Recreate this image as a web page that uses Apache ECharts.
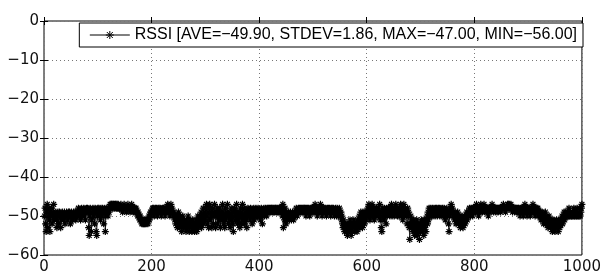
<!DOCTYPE html>
<html>
<head>
    <meta charset="utf-8">
    <title>RSSI</title>
    <script type="text/javascript" src="https://cdn.jsdelivr.net/npm/echarts@6/dist/echarts.min.js"></script>
    <style>
        html, body { margin: 0; padding: 0; background: #fff; }
    </style>
</head>
<body>
    <div id="main" style="width: 604px;height:280px;"></div>
    <script type="text/javascript">
        // 数据 (one row = 20 samples)
        var rssi = [
            -50,-48,-52,-54,-49,-47,-53,-50,-48,-51,-54,-49,-50,-48,-52,-50,-49,-47,-51,-50,
            -50,-49,-51,-53,-50,-49,-52,-50,-49,-50,-53,-51,-50,-49,-50,-51,-50,-49,-52,-50,
            -50,-49,-50,-51,-50,-49,-49,-50,-52,-50,-49,-50,-51,-50,-49,-50,-50,-49,-51,-50,
            -49,-50,-49,-48,-50,-49,-50,-51,-49,-48,-49,-50,-49,-48,-50,-49,-51,-49,-48,-49,
            -48,-49,-53,-55,-50,-48,-49,-54,-51,-49,-48,-50,-49,-52,-48,-49,-54,-55,-50,-48,
            -49,-48,-50,-49,-51,-48,-49,-50,-48,-49,-52,-49,-48,-54,-50,-49,-48,-49,-50,-48,
            -49,-48,-47,-48,-47,-47,-48,-47,-47,-48,-47,-48,-47,-47,-48,-47,-48,-47,-48,-48,
            -48,-48,-47,-48,-48,-49,-48,-48,-47,-48,-48,-48,-49,-48,-48,-47,-48,-48,-48,-49,
            -48,-48,-47,-48,-48,-49,-48,-48,-48,-49,-48,-49,-49,-50,-49,-50,-50,-51,-50,-51,
            -51,-52,-51,-52,-52,-51,-52,-52,-51,-52,-51,-51,-52,-51,-50,-51,-50,-49,-50,-49,
            -49,-48,-49,-48,-50,-49,-48,-49,-48,-49,-50,-48,-49,-48,-49,-48,-49,-50,-49,-48,
            -49,-48,-48,-49,-50,-49,-48,-49,-48,-47,-49,-48,-49,-50,-48,-47,-49,-48,-49,-50,
            -49,-50,-51,-50,-52,-50,-51,-53,-50,-49,-52,-51,-53,-50,-52,-54,-51,-50,-53,-52,
            -51,-53,-52,-54,-51,-52,-53,-50,-52,-54,-53,-51,-52,-53,-54,-52,-51,-53,-52,-54,
            -52,-53,-51,-54,-52,-50,-53,-52,-51,-50,-52,-49,-53,-51,-50,-48,-52,-50,-49,-51,
            -48,-47,-50,-52,-49,-53,-48,-47,-51,-50,-49,-53,-48,-50,-52,-49,-47,-50,-53,-49,
            -50,-48,-52,-49,-51,-50,-48,-53,-49,-50,-51,-47,-49,-52,-50,-53,-48,-51,-50,-49,
            -47,-50,-52,-49,-51,-53,-50,-48,-51,-49,-52,-54,-50,-48,-49,-51,-50,-47,-49,-52,
            -50,-51,-49,-53,-48,-50,-52,-49,-47,-51,-50,-48,-52,-50,-49,-51,-53,-50,-48,-49,
            -50,-49,-51,-48,-50,-49,-52,-50,-49,-48,-51,-50,-49,-48,-50,-49,-50,-48,-49,-50,
            -49,-51,-50,-48,-49,-52,-50,-49,-48,-50,-49,-48,-49,-50,-48,-49,-48,-49,-48,-49,
            -48,-49,-48,-48,-49,-48,-49,-48,-49,-48,-48,-49,-48,-49,-48,-49,-48,-48,-49,-48,
            -49,-48,-50,-47,-53,-49,-51,-48,-50,-52,-49,-50,-51,-49,-50,-51,-50,-49,-50,-51,
            -50,-49,-50,-51,-50,-49,-50,-49,-48,-49,-50,-49,-48,-49,-48,-49,-48,-49,-48,-49,
            -48,-49,-48,-48,-49,-48,-50,-48,-49,-48,-49,-48,-49,-50,-48,-49,-48,-49,-48,-49,
            -48,-49,-48,-47,-48,-49,-48,-50,-48,-49,-48,-49,-48,-47,-48,-49,-50,-48,-49,-48,
            -49,-48,-49,-48,-50,-49,-48,-49,-48,-49,-48,-49,-50,-48,-49,-48,-49,-48,-49,-50,
            -49,-48,-49,-50,-48,-49,-50,-49,-48,-49,-50,-49,-51,-50,-52,-53,-51,-52,-54,-53,
            -52,-54,-53,-55,-52,-53,-54,-52,-51,-53,-55,-52,-54,-53,-52,-51,-53,-54,-52,-53,
            -52,-54,-51,-53,-52,-50,-53,-51,-49,-52,-50,-53,-49,-51,-50,-52,-49,-50,-51,-49,
            -49,-48,-50,-47,-49,-51,-48,-50,-49,-47,-50,-48,-49,-51,-48,-50,-49,-48,-50,-49,
            -48,-50,-49,-47,-51,-49,-53,-54,-50,-48,-49,-51,-48,-50,-49,-52,-48,-50,-49,-48,
            -49,-48,-50,-49,-48,-47,-50,-49,-48,-49,-50,-48,-49,-47,-48,-49,-50,-48,-49,-50,
            -48,-49,-47,-50,-48,-49,-51,-48,-47,-50,-49,-48,-50,-49,-52,-48,-50,-49,-53,-56,
            -52,-50,-51,-53,-52,-54,-51,-53,-55,-52,-54,-53,-51,-55,-52,-54,-53,-56,-52,-54,
            -53,-51,-54,-52,-53,-55,-51,-53,-52,-54,-51,-50,-52,-49,-51,-48,-50,-49,-48,-50,
            -49,-48,-50,-49,-48,-49,-50,-48,-49,-48,-50,-49,-48,-49,-48,-50,-49,-48,-49,-50,
            -48,-49,-50,-48,-49,-51,-50,-49,-48,-50,-49,-52,-54,-50,-49,-48,-47,-49,-48,-50,
            -49,-50,-51,-49,-50,-52,-50,-51,-49,-50,-52,-51,-50,-53,-51,-52,-50,-51,-53,-52,
            -51,-50,-52,-51,-50,-49,-51,-50,-49,-50,-48,-49,-50,-48,-49,-48,-50,-48,-49,-48,
            -48,-49,-48,-47,-49,-48,-48,-50,-48,-49,-48,-47,-48,-48,-49,-48,-48,-47,-48,-49,
            -48,-48,-49,-48,-48,-50,-48,-48,-49,-48,-48,-48,-47,-48,-48,-49,-48,-48,-48,-49,
            -48,-48,-48,-49,-48,-48,-48,-48,-49,-48,-48,-48,-48,-47,-48,-48,-48,-49,-48,-48,
            -48,-47,-47,-48,-47,-48,-48,-47,-48,-48,-49,-48,-48,-48,-49,-48,-48,-48,-49,-48,
            -49,-48,-48,-49,-50,-48,-49,-48,-49,-48,-50,-49,-48,-47,-49,-48,-49,-50,-48,-49,
            -48,-49,-48,-50,-49,-48,-49,-48,-47,-49,-48,-49,-50,-48,-49,-48,-49,-48,-50,-49,
            -49,-50,-49,-51,-50,-49,-51,-50,-52,-50,-51,-49,-52,-51,-50,-52,-53,-51,-50,-52,
            -51,-53,-52,-51,-54,-52,-53,-51,-52,-54,-53,-52,-51,-53,-52,-54,-51,-52,-53,-51,
            -52,-51,-50,-52,-51,-50,-49,-51,-50,-49,-50,-50,-49,-50,-50,-48,-50,-50,-49,-50,
            -50,-50,-49,-50,-48,-50,-50,-49,-50,-50,-48,-50,-49,-50,-50,-48,-50,-49,-48,-47
        ];
        var seriesName = 'RSSI [AVE=\u221249.90, STDEV=1.86, MAX=\u221247.00, MIN=\u221256.00]';
        var xTicks = [0, 200, 400, 600, 800, 1000];
        var yTicks = [-60, -50, -40, -30, -20, -10, 0];

        var asterisk = 'path://M5,0L5,10M0,5L10,5M1.5,1.5L8.5,8.5M1.5,8.5L8.5,1.5';
        var font = 'Liberation Sans';
        var tickFont = 'DejaVu Sans';

        function minus(v) {
            return String(v).replace('-', '\u2212');
        }

        var myChart = echarts.init(document.getElementById('main'));
        var option = {
            animation: false,
            backgroundColor: '#fff',
            grid: {
                left: 44, right: 17, top: 21, bottom: 25,
                show: true, borderColor: '#000', borderWidth: 1
            },
            legend: {
                data: [{ name: seriesName, icon: 'path://M0,5L40,5M20,1L20,9M16,5L24,5M17,2L23,8M17,8L23,2' }],
                right: 21, top: 23,
                backgroundColor: '#fff',
                borderColor: '#000', borderWidth: 1,
                padding: [4, 6, 4, 8],
                itemWidth: 40, itemHeight: 8,
                itemStyle: { color: 'none', borderColor: '#000', borderWidth: 1 },
                textStyle: { fontFamily: font, fontSize: 16, color: '#000' }
            },
            xAxis: [{
                type: 'value',
                min: xTicks[0], max: xTicks[xTicks.length - 1], interval: 200,
                axisLine: { show: false },
                axisTick: { inside: true, length: 4, lineStyle: { color: '#000' } },
                axisLabel: { fontFamily: tickFont, fontSize: 15, color: '#111', margin: 5, formatter: function (v) { return String(v); } },
                splitLine: { show: true, lineStyle: { color: '#777', type: [1, 3], width: 1 } }
            }, {
                type: 'value', position: 'top',
                min: 0, max: 1000, interval: 200,
                axisLine: { show: false },
                axisTick: { inside: true, length: 4, lineStyle: { color: '#000' } },
                axisLabel: { show: false },
                splitLine: { show: false }
            }],
            yAxis: [{
                type: 'value',
                min: yTicks[0], max: yTicks[yTicks.length - 1], interval: 10,
                axisLine: { show: false },
                axisTick: { inside: true, length: 4, lineStyle: { color: '#000' } },
                axisLabel: { fontFamily: tickFont, fontSize: 15, color: '#111', margin: 5, formatter: minus },
                splitLine: { show: true, lineStyle: { color: '#777', type: [1, 3], width: 1 } }
            }, {
                type: 'value', position: 'right',
                min: -60, max: 0, interval: 10,
                axisLine: { show: false },
                axisTick: { inside: true, length: 4, lineStyle: { color: '#000' } },
                axisLabel: { show: false },
                splitLine: { show: false }
            }],
            series: [{
                name: seriesName,
                type: 'line',
                data: rssi.map(function (v, i) { return [i + 1, v]; }),
                symbol: asterisk,
                symbolSize: 7,
                showSymbol: true,
                lineStyle: { color: '#000', width: 0.8 },
                itemStyle: { color: '#000', borderColor: '#000', borderWidth: 1.2 },
                emphasis: { disabled: true }
            }]
        };
        myChart.setOption(option);
    </script>
</body>
</html>
